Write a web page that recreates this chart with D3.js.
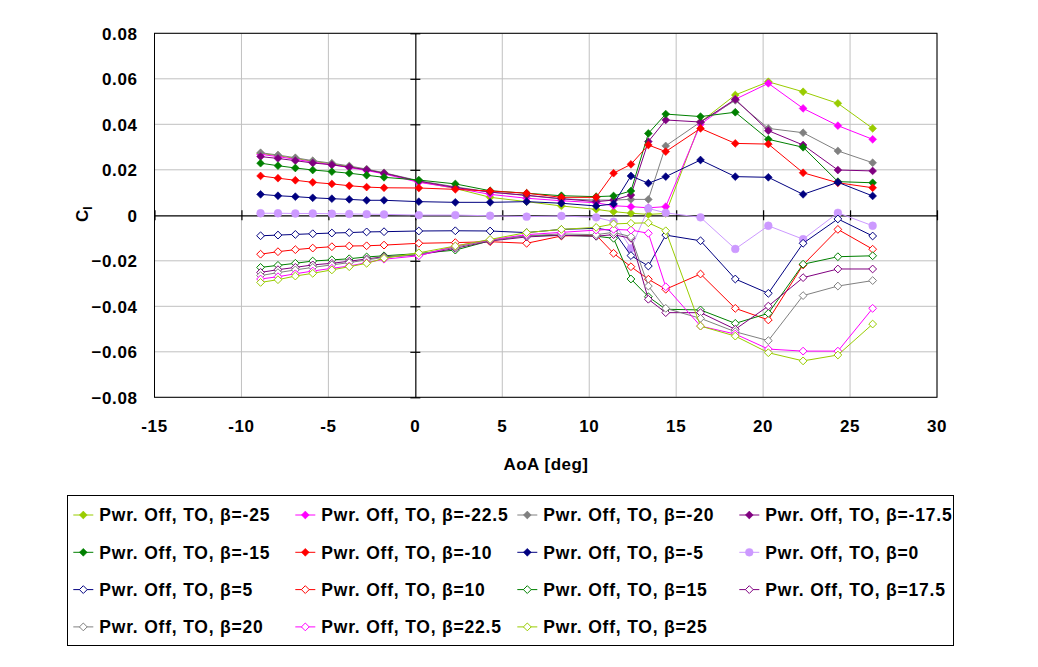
<!DOCTYPE html>
<html>
<head>
<meta charset="utf-8">
<script src="https://cdn.jsdelivr.net/npm/d3@7"></script>
<style>
  html, body { margin: 0; padding: 0; background: #fff; }
  svg { display: block; }
  text { font-family: "Liberation Sans", Arial, sans-serif; font-weight: bold; fill: #000; }
</style>
</head>
<body>
<svg id="chart" width="1038" height="667"></svg>
<script>
// ---------------- DATA ----------------
const aoa = [-8.9, -7.9, -6.9, -5.9, -4.8, -3.8, -2.8, -1.8, 0.2, 2.3, 4.3, 6.4, 8.4, 10.4, 11.4, 12.4, 13.4, 14.4, 16.4, 18.4, 20.3, 22.3, 24.3, 26.3];

const betaLabels = ["-25", "-22.5", "-20", "-17.5", "-15", "-10", "-5", "0", "5", "10", "15", "17.5", "20", "22.5", "25"];
const seriesColors = ["#99CC00", "#FF00FF", "#808080", "#800080", "#008000", "#FF0000", "#000080", "#CC99FF",
                      "#000080", "#FF0000", "#008000", "#800080", "#808080", "#FF00FF", "#99CC00"];
const markerTypes = ["filled", "filled", "filled", "filled", "filled", "filled", "filled", "circle",
                     "open", "open", "open", "open", "open", "open", "open"];

const clM25   = [0.0272, 0.0262, 0.0250, 0.0237, 0.0226, 0.0214, 0.0201, 0.0186, 0.0148, 0.0118, 0.0079, 0.0060, 0.0041, 0.0026, 0.0016, 0.0009, 0.0004, 0.0008, 0.0410, 0.0529, 0.0587, 0.0543, 0.0492, 0.0382];
const clM22_5 = [0.0268, 0.0258, 0.0246, 0.0234, 0.0222, 0.0210, 0.0197, 0.0182, 0.0145, 0.0120, 0.0092, 0.0075, 0.0064, 0.0055, 0.0042, 0.0038, 0.0033, 0.0038, 0.0400, 0.0510, 0.0580, 0.0470, 0.0394, 0.0334];
const clM20   = [0.0275, 0.0265, 0.0253, 0.0240, 0.0229, 0.0217, 0.0203, 0.0187, 0.0152, 0.0125, 0.0102, 0.0087, 0.0072, 0.0067, 0.0067, 0.0070, 0.0070, 0.0305, 0.0410, 0.0505, 0.0382, 0.0363, 0.0283, 0.0231];
const clM17_5 = [0.0258, 0.0250, 0.0240, 0.0230, 0.0222, 0.0212, 0.0200, 0.0185, 0.0150, 0.0122, 0.0102, 0.0088, 0.0073, 0.0060, 0.0067, 0.0089, 0.0324, 0.0419, 0.0410, 0.0510, 0.0372, 0.0309, 0.0199, 0.0195];
const clM15   = [0.0229, 0.0218, 0.0208, 0.0199, 0.0192, 0.0185, 0.0176, 0.0167, 0.0155, 0.0138, 0.0108, 0.0097, 0.0086, 0.0082, 0.0085, 0.0107, 0.0360, 0.0445, 0.0434, 0.0453, 0.0334, 0.0299, 0.0148, 0.0143];
const clM10   = [0.0173, 0.0163, 0.0154, 0.0145, 0.0138, 0.0130, 0.0124, 0.0121, 0.0120, 0.0114, 0.0107, 0.0097, 0.0079, 0.0079, 0.0185, 0.0224, 0.0309, 0.0280, 0.0382, 0.0316, 0.0313, 0.0187, 0.0143, 0.0121];
const clM5    = [0.0092, 0.0086, 0.0082, 0.0077, 0.0073, 0.0070, 0.0066, 0.0066, 0.0060, 0.0057, 0.0057, 0.0060, 0.0053, 0.0041, 0.0050, 0.0173, 0.0141, 0.0170, 0.0243, 0.0170, 0.0167, 0.0092, 0.0145, 0.0085];
const cl0     = [0.0009, 0.0009, 0.0008, 0.0008, 0.0007, 0.0006, 0.0005, 0.0004, 0.0001, 0.0001, -0.0002, -0.0006, -0.0003, -0.0009, -0.0028, -0.0145, 0.0030, 0.0011, -0.0009, -0.0148, -0.0046, -0.0105, 0.0011, -0.0046];
const clP5    = [-0.0090, -0.0087, -0.0084, -0.0081, -0.0078, -0.0076, -0.0073, -0.0072, -0.0069, -0.0068, -0.0069, -0.0076, -0.0062, -0.0057, -0.0068, -0.0177, -0.0223, -0.0087, -0.0112, -0.0280, -0.0343, -0.0123, -0.0016, -0.0091];
const clP10   = [-0.0171, -0.0160, -0.0151, -0.0144, -0.0138, -0.0135, -0.0134, -0.0131, -0.0123, -0.0120, -0.0116, -0.0123, -0.0091, -0.0087, -0.0167, -0.0226, -0.0281, -0.0325, -0.0258, -0.0409, -0.0460, -0.0218, -0.0062, -0.0149];
const clP15   = [-0.0229, -0.0220, -0.0211, -0.0201, -0.0196, -0.0191, -0.0183, -0.0178, -0.0168, -0.0153, -0.0112, -0.0090, -0.0088, -0.0092, -0.0101, -0.0280, -0.0358, -0.0413, -0.0416, -0.0475, -0.0431, -0.0215, -0.0182, -0.0178];
const clP17_5 = [-0.0251, -0.0239, -0.0229, -0.0218, -0.0211, -0.0202, -0.0192, -0.0182, -0.0175, -0.0145, -0.0113, -0.0095, -0.0088, -0.0092, -0.0085, -0.0101, -0.0369, -0.0428, -0.0428, -0.0501, -0.0399, -0.0274, -0.0236, -0.0236];
const clP20   = [-0.0265, -0.0252, -0.0240, -0.0229, -0.0218, -0.0208, -0.0196, -0.0185, -0.0172, -0.0140, -0.0110, -0.0090, -0.0082, -0.0085, -0.0075, -0.0094, -0.0311, -0.0409, -0.0453, -0.0512, -0.0551, -0.0353, -0.0311, -0.0287];
const clP22_5 = [-0.0280, -0.0270, -0.0257, -0.0245, -0.0233, -0.0223, -0.0208, -0.0193, -0.0178, -0.0135, -0.0108, -0.0085, -0.0075, -0.0065, -0.0062, -0.0065, -0.0079, -0.0314, -0.0487, -0.0522, -0.0588, -0.0597, -0.0597, -0.0409];
const clP25   = [-0.0295, -0.0283, -0.0267, -0.0255, -0.0240, -0.0226, -0.0211, -0.0189, -0.0165, -0.0135, -0.0106, -0.0076, -0.0062, -0.0053, -0.0038, -0.0035, -0.0033, -0.0068, -0.0487, -0.0531, -0.0604, -0.0640, -0.0614, -0.0478];

const seriesValues = [clM25, clM22_5, clM20, clM17_5, clM15, clM10, clM5, cl0, clP5, clP10, clP15, clP17_5, clP20, clP22_5, clP25];

const xTicks = [-15, -10, -5, 0, 5, 10, 15, 20, 25, 30];
const yTicks = [-0.08, -0.06, -0.04, -0.02, 0, 0.02, 0.04, 0.06, 0.08];
const xTitle = "AoA [deg]";

// ---------------- DRAW ----------------
const svg = d3.select("#chart");
const L = 154.5, R = 937, T = 33.3, B = 397.3;

const x = d3.scaleLinear().domain([-15, 30]).range([L, R]);
const y = d3.scaleLinear().domain([-0.08, 0.08]).range([B, T]);

// gridlines
const grid = svg.append("g");
grid.selectAll("line.gx").data(xTicks.filter(d => d !== 0)).enter().append("line")
  .attr("x1", d => x(d)).attr("x2", d => x(d)).attr("y1", T).attr("y2", B)
  .attr("stroke", "#C0C0C0").attr("stroke-width", 1);
grid.selectAll("line.gy").data(yTicks.filter(d => d !== 0)).enter().append("line")
  .attr("x1", L).attr("x2", R).attr("y1", d => y(d)).attr("y2", d => y(d))
  .attr("stroke", "#C0C0C0").attr("stroke-width", 1);

// plot border
svg.append("rect").attr("x", L).attr("y", T).attr("width", R - L).attr("height", B - T)
  .attr("fill", "none").attr("stroke", "#000").attr("stroke-width", 1);

// zero axes with crossing ticks
const axX = d3.axisBottom(x).tickValues(xTicks).tickSizeInner(10).tickSizeOuter(0).tickFormat("");
const gX = svg.append("g").attr("transform", `translate(0,${y(0)})`).call(axX);
gX.selectAll(".tick line").attr("y1", -5).attr("y2", 5);
const axY = d3.axisLeft(y).tickValues(yTicks).tickSizeInner(10).tickSizeOuter(0).tickFormat("");
const gY = svg.append("g").attr("transform", `translate(${x(0)},0)`).call(axY);
gY.selectAll(".tick line").attr("x1", -5).attr("x2", 5);
svg.selectAll(".domain").attr("stroke", "#000").attr("stroke-width", 1.2);
svg.selectAll(".tick line").attr("stroke", "#000").attr("stroke-width", 1.2);

// tick labels
const fmtY = d => d === 0 ? "0" : d3.format(".2f")(d);
svg.append("g").selectAll("text").data(yTicks).enter().append("text")
  .attr("x", 137.5).attr("y", d => y(d) + 6.3)
  .attr("text-anchor", "end").style("font-size", "17px").style("letter-spacing", "0.6px")
  .text(fmtY);
svg.append("g").selectAll("text").data(xTicks).enter().append("text")
  .attr("x", d => x(d)).attr("y", 431.5)
  .attr("text-anchor", "middle").style("font-size", "17px").style("letter-spacing", "0.6px")
  .text(d => String(d));

// axis titles
svg.append("text").attr("x", 546).attr("y", 469.5).attr("text-anchor", "middle")
  .style("font-size", "17px").style("letter-spacing", "0.5px").text(xTitle);
const yt = svg.append("text").attr("transform", "translate(88,222) rotate(-90)")
  .style("font-size", "17px");
yt.append("tspan").text("C");
yt.append("tspan").attr("dy", 4).style("font-size", "12px").text("l");

// series
const line = d3.line().x(d => x(d[0])).y(d => y(d[1]));
const diamond = (s) => `M0,${-s}L${s},0L0,${s}L${-s},0Z`;

function drawMarker(g, type, color, cx, cy) {
  if (type === "circle") {
    g.append("circle").attr("cx", cx).attr("cy", cy).attr("r", 3.9).attr("fill", color).attr("stroke", color).attr("stroke-width", 0.5);
  } else if (type === "filled") {
    g.append("path").attr("d", diamond(3.9)).attr("transform", `translate(${cx},${cy})`)
      .attr("fill", color).attr("stroke", color).attr("stroke-width", 0.6);
  } else {
    g.append("path").attr("d", diamond(3.9)).attr("transform", `translate(${cx},${cy})`)
      .attr("fill", "#fff").attr("stroke", color).attr("stroke-width", 1);
  }
}

const plot = svg.append("g");
seriesValues.forEach((vals, i) => {
  const pts = aoa.map((a, j) => [a, vals[j]]);
  const g = plot.append("g");
  g.append("path").attr("d", line(pts)).attr("fill", "none")
    .attr("stroke", seriesColors[i]).attr("stroke-width", 1);
  pts.forEach(p => drawMarker(g, markerTypes[i], seriesColors[i], x(p[0]), y(p[1])));
});

// legend
svg.append("rect").attr("x", 67.5).attr("y", 495.5).attr("width", 886).attr("height", 150)
  .attr("fill", "#fff").attr("stroke", "#000").attr("stroke-width", 1);
const leg = svg.append("g");
betaLabels.forEach((b, i) => {
  const col = i % 4, row = Math.floor(i / 4);
  const mx = 83.3 + col * 222, my = 515 + row * 37.3;
  leg.append("line").attr("x1", mx - 10).attr("x2", mx + 10).attr("y1", my).attr("y2", my)
    .attr("stroke", seriesColors[i]).attr("stroke-width", 1);
  drawMarker(leg, markerTypes[i], seriesColors[i], mx, my);
  leg.append("text").attr("x", mx + 16).attr("y", my + 6.3)
    .style("font-size", "17.5px").style("letter-spacing", "0.8px")
    .text(`Pwr. Off, TO, β=${b}`);
});
</script>
</body>
</html>
